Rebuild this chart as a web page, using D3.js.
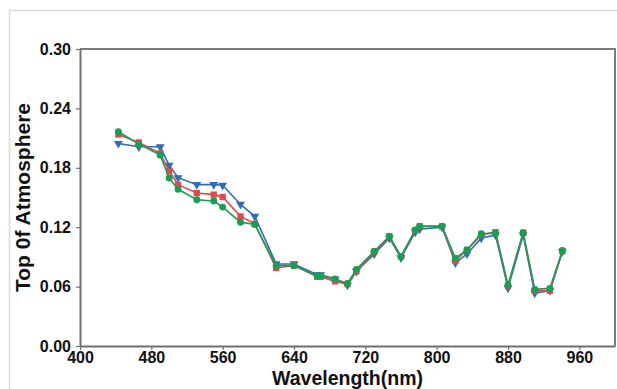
<!DOCTYPE html>
<html>
<head>
<meta charset="utf-8">
<script src="https://cdn.jsdelivr.net/npm/d3@7"></script>
<style>
  html, body { margin: 0; padding: 0; background: #fff; }
  svg { display: block; }
  .tick text { font-family: "Liberation Sans", Arial, sans-serif; font-weight: bold; font-size: 16px; fill: #111; }
  .axis-title { font-family: "Liberation Sans", Arial, sans-serif; font-weight: bold; font-size: 21px; fill: #111; }
</style>
</head>
<body>
<svg id="chart" width="617" height="389"></svg>
<script>
// wavelengths (nm)
const wavelengths = [443, 466, 490, 500, 510, 531, 550, 560, 580, 596, 620, 640, 666, 670, 686, 700,
  710, 730, 747, 760, 776, 781, 806, 821, 834, 850, 866, 880, 897, 910, 927, 941];

// top of atmosphere reflectance, three series
const blueValues = [0.2046, 0.2012, 0.2012, 0.1826, 0.170, 0.163, 0.163, 0.1623, 0.143, 0.131, 0.0829, 0.0829,
  0.072, 0.072, 0.0676, 0.0615, 0.0754, 0.093, 0.109, 0.089, 0.115, 0.118, 0.120, 0.0839, 0.093, 0.109, 0.112,
  0.0585, 0.112, 0.0534, 0.0558, 0.0954];
const redValues = [0.2137, 0.2056, 0.1945, 0.1765, 0.163, 0.1545, 0.1529, 0.1505, 0.1309, 0.1234, 0.0788, 0.0812,
  0.070, 0.070, 0.0653, 0.0626, 0.0754, 0.095, 0.1106, 0.0903, 0.1167, 0.1207, 0.1207, 0.0862, 0.0971, 0.1123, 0.115,
  0.0609, 0.1143, 0.0558, 0.0558, 0.0957];
const greenValues = [0.2164, 0.2039, 0.1928, 0.1698, 0.1583, 0.1478, 0.1464, 0.1403, 0.1251, 0.1228, 0.0812, 0.0812,
  0.0707, 0.0707, 0.0676, 0.0632, 0.0774, 0.0957, 0.1109, 0.0903, 0.1173, 0.1211, 0.1211, 0.0886, 0.0971, 0.1133, 0.114,
  0.0615, 0.1143, 0.0572, 0.0582, 0.0964];

const xTicks = [400, 480, 560, 640, 720, 800, 880, 960];
const yTicks = [0, 0.06, 0.12, 0.18, 0.24, 0.30];

const svg = d3.select('#chart');

// light frame around the figure
svg.append('path')
  .attr('d', 'M9.5,389 V10.5 H617')
  .attr('fill', 'none')
  .attr('stroke', '#d9d9d9')
  .attr('stroke-width', 1.5);

const margin = { top: 49, right: 2, bottom: 43, left: 80 };
const width = 617 - margin.left - margin.right;
const height = 389 - margin.top - margin.bottom;

const g = svg.append('g').attr('transform', `translate(${margin.left},${margin.top})`);

const x = d3.scaleLinear().domain([400, 1000]).range([0, width]);
const y = d3.scaleLinear().domain([0, 0.30]).range([height, 0]);

// plot box (top + right)
g.append('path')
  .attr('d', `M0,0 H${width} V${height}`)
  .attr('fill', 'none')
  .attr('stroke', '#7a7a7a')
  .attr('stroke-width', 2);

const xAxis = g.append('g')
  .attr('transform', `translate(0,${height})`)
  .call(d3.axisBottom(x).tickValues(xTicks).tickSize(4).tickPadding(2).tickSizeOuter(0).tickFormat(d3.format('d')));

const yAxis = g.append('g')
  .call(d3.axisLeft(y).tickValues(yTicks).tickSize(4).tickPadding(5).tickSizeOuter(0).tickFormat(d3.format('.2f')));

[xAxis, yAxis].forEach(a => {
  a.select('.domain').attr('stroke', '#6e6e6e').attr('stroke-width', 2);
  a.selectAll('.tick line').attr('stroke', '#6e6e6e').attr('stroke-width', 1.2);
});

// axis titles
svg.append('text')
  .attr('class', 'axis-title')
  .attr('x', margin.left + width / 2)
  .attr('y', 384.6)
  .style('font-size', '19.5px')
  .attr('text-anchor', 'middle')
  .text('Wavelength(nm)');

svg.append('text')
  .attr('class', 'axis-title')
  .attr('transform', `translate(30,${margin.top + height / 2}) rotate(-90)`)
  .attr('text-anchor', 'middle')
  .text('Top 0f Atmosphere');

const series = [
  { name: 'blue', values: blueValues, color: '#2f6db5', symbol: 'triangle' },
  { name: 'red', values: redValues, color: '#e5474e', symbol: 'square' },
  { name: 'green', values: greenValues, color: '#16a052', symbol: 'circle' }
];

const line = d3.line()
  .x(d => x(d[0]))
  .y(d => y(d[1]));

series.forEach(s => {
  const pts = wavelengths.map((w, i) => [w, s.values[i]]);
  const sg = g.append('g');
  sg.append('path')
    .datum(pts)
    .attr('d', line)
    .attr('fill', 'none')
    .attr('stroke', s.color)
    .attr('stroke-width', 1.6);

  let sym;
  if (s.symbol === 'triangle') sym = d3.symbol().type(d3.symbolTriangle).size(34);
  else if (s.symbol === 'square') sym = d3.symbol().type(d3.symbolSquare).size(40);
  else sym = d3.symbol().type(d3.symbolCircle).size(38);

  sg.selectAll('path.pt')
    .data(pts)
    .enter()
    .append('path')
    .attr('class', 'pt')
    .attr('d', sym)
    .attr('transform', d => `translate(${x(d[0])},${y(d[1])})` + (s.symbol === 'triangle' ? ' rotate(180)' : ''))
    .attr('fill', s.color);
});
</script>
</body>
</html>
